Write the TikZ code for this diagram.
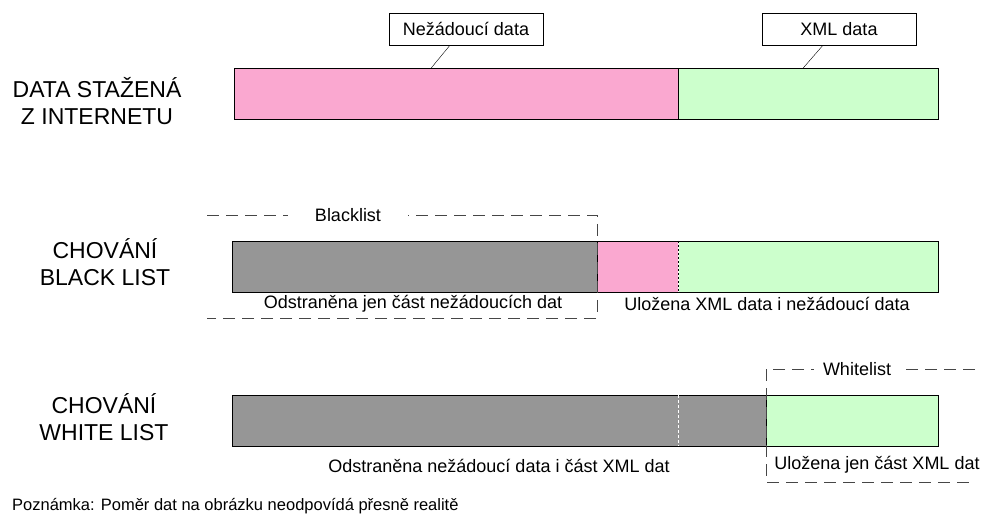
\documentclass[tikz,border=0pt]{standalone}
\usepackage{fontspec}
\setmainfont{Liberation Sans}
\usepackage{xcolor}
\usetikzlibrary{positioning, calc}

\definecolor{unwanted}{RGB}{250,168,208}
\definecolor{xmlgreen}{RGB}{204,255,204}
\definecolor{removed}{RGB}{150,150,150}
\definecolor{dashline}{RGB}{70,70,70}

\begin{document}
\begin{tikzpicture}[x=1pt, y=-1pt,
    bar/.style = {draw, thin, minimum height=51pt, inner sep=0pt, anchor=north west},
    callout/.style = {draw, thin, fill=white, minimum width=154pt, minimum height=32pt, font=\fontsize{18}{21}\selectfont},
    rowlabel/.style = {align=center, font=\fontsize{23}{27}\selectfont},
    txt/.style = {inner sep=1pt, font=\fontsize{18}{21}\selectfont},
    listline/.style = {dashline, thin, dash pattern=on 12pt off 7pt}]
    \useasboundingbox (0,0) rectangle (982,518);

    % Row labels
    \node[rowlabel] (row1) at (97,101) {DATA STAŽENÁ\\Z INTERNETU};
    \node[rowlabel] (row2) at (105,262) {CHOVÁNÍ\\BLACK LIST};
    \node[rowlabel] (row3) at (104,417) {CHOVÁNÍ\\WHITE LIST};

    % Data from the internet
    \node[bar, fill=unwanted, minimum width=444pt] (topbad) at (234,68) {};
    \node[bar, fill=xmlgreen, minimum width=260pt] (topxml) at (678,68) {};
    \node[callout] (badcall) at (466,29) {Nežádoucí data};
    \node[callout] (xmlcall) at (839,29) {XML data};
    \draw ([xshift=-16pt]badcall.south) -- ([xshift=-25pt]topbad.north);
    \draw ([xshift=-16pt]xmlcall.south) -- ([xshift=-5pt]topxml.north);

    % Black list behaviour
    \node[bar, fill=removed, minimum width=365pt] (blkgone) at (232,241) {};
    \node[bar, fill=unwanted, minimum width=81pt] (blkbad) at (597,241) {};
    \node[bar, fill=xmlgreen, minimum width=260pt] (blkxml) at (678,241) {};
    \draw[white, thick] (blkbad.north east) -- (blkbad.south east);
    \draw[dash pattern=on 2pt off 2pt, thin] (blkbad.north east) -- (blkbad.south east);
    \coordinate (bltl) at (207,215);
    \coordinate (bltr) at (597,215);
    \coordinate (blbl) at (207,318);
    \coordinate (blbr) at (597,318);
    \draw[listline] (bltl) -- (bltr) -- (blbr) -- (blbl);
    \node[txt, fill=white, inner xsep=27pt] (blname) at (348,215) {Blacklist};
    \node[txt] (blgone) at (413,304) {Odstraněna jen část nežádoucích dat};
    \node[txt] (blkept) at (767,304) {Uložena XML data i nežádoucí data};

    % White list behaviour
    \node[bar, fill=removed, minimum width=534pt] (whtgone) at (232,395) {};
    \node[bar, fill=xmlgreen, minimum width=172pt] (whtxml) at (766,395) {};
    \draw[white, dash pattern=on 3pt off 2pt, thin] (678,395) -- (678,446);
    \coordinate (wltl) at (766,369);
    \coordinate (wltr) at (975,369);
    \coordinate (wlbl) at (766,482);
    \coordinate (wlbr) at (975,482);
    \draw[listline] (wltr) -- (wltl) -- (wlbl) -- (wlbr);
    \node[txt, fill=white, inner xsep=9pt] (wlname) at (857,369) {Whitelist};
    \node[txt] (wlgone) at (499,466) {Odstraněna nežádoucí data i část XML dat};
    \node[txt, fill=white] (wlkept) at (877,465) {Uložena jen část XML dat};

    % Note
    \node[anchor=west, inner sep=0pt, font=\fontsize{16.5}{19}\selectfont] (note) at (12,506) {Poznámka: Poměr dat na obrázku neodpovídá přesně realitě};
\end{tikzpicture}
\end{document}
